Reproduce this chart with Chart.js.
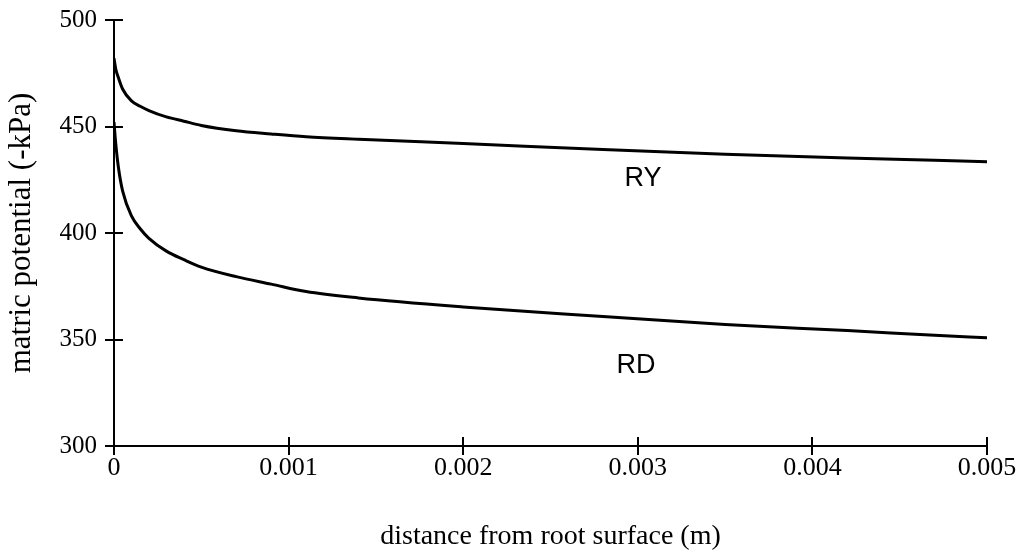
<!DOCTYPE html>
<html>
<head>
<meta charset="utf-8">
<script src="https://cdn.jsdelivr.net/npm/chart.js@4/dist/chart.umd.min.js"></script>
<style>
  html, body { margin: 0; padding: 0; background: #fff; }
  #wrap { width: 1027px; height: 559px; position: relative; }
</style>
</head>
<body>
<div id="wrap"><canvas id="c" width="1027" height="559"></canvas></div>
<script>
// ---- data ----
const distance = [0, 0.00001, 0.000025, 0.00005, 0.0001, 0.00015, 0.0002, 0.0003, 0.0004, 0.0005,
                  0.0007, 0.0009, 0.0011, 0.0014, 0.002, 0.0028, 0.0035, 0.0042, 0.0047, 0.005];
const potentialRY = [482, 477, 473, 467.5, 462, 459.5, 457.5, 454.5, 452.5, 450.5,
                     448, 446.5, 445.2, 444, 442, 439.2, 437, 435.2, 434.2, 433.5];
const potentialRD = [452, 442, 431, 419.5, 408, 402, 397.5, 391.5, 387.5, 384,
                     379.5, 376, 372.5, 369.5, 365.3, 360.8, 357, 354.2, 352, 350.8];
const seriesNames = ['RY', 'RD'];
const xTickValues = [0, 0.001, 0.002, 0.003, 0.004, 0.005];
const xTickLabels = ['0', '0.001', '0.002', '0.003', '0.004', '0.005'];
const yTickValues = [300, 350, 400, 450, 500];
const yTickLabels = ['300', '350', '400', '450', '500'];
const xTitle = 'distance from root surface (m)';
const yTitle = 'matric potential (-kPa)';
// label anchor points in data coordinates
const seriesLabelAt = [[0.00303, 425.4], [0.00299, 337.6]];

const toPoints = (ys) => distance.map((x, i) => ({ x: x, y: ys[i] }));

const crossTicks = {
  id: 'crossTicks',
  afterDraw(chart) {
    const ctx = chart.ctx;
    const xs = chart.scales.x, ys = chart.scales.y;
    const area = chart.chartArea;
    ctx.save();
    ctx.strokeStyle = '#000';
    ctx.lineWidth = 2;
    ctx.beginPath();
    yTickValues.forEach(v => {
      const py = Math.round(ys.getPixelForValue(v));
      ctx.moveTo(area.left - 9, py);
      ctx.lineTo(area.left + 9, py);
    });
    xTickValues.forEach(v => {
      const px = Math.round(xs.getPixelForValue(v));
      ctx.moveTo(px, area.bottom - 9);
      ctx.lineTo(px, area.bottom + 9);
    });
    ctx.stroke();
    // series labels
    ctx.fillStyle = '#000';
    ctx.font = '27px "Liberation Sans", Arial, sans-serif';
    ctx.textAlign = 'center';
    ctx.textBaseline = 'middle';
    seriesNames.forEach((n, i) => {
      const p = seriesLabelAt[i];
      ctx.fillText(n, xs.getPixelForValue(p[0]), ys.getPixelForValue(p[1]));
    });
    ctx.restore();
  }
};

new Chart(document.getElementById('c'), {
  type: 'line',
  data: {
    datasets: [
      { label: seriesNames[0], data: toPoints(potentialRY), borderColor: '#000', borderWidth: 3,
        pointRadius: 0, fill: false, cubicInterpolationMode: 'monotone' },
      { label: seriesNames[1], data: toPoints(potentialRD), borderColor: '#000', borderWidth: 3,
        pointRadius: 0, fill: false, cubicInterpolationMode: 'monotone' }
    ]
  },
  options: {
    responsive: false,
    animation: false,
    devicePixelRatio: 1,
    layout: { padding: { top: 20, right: 40, left: 0, bottom: 0 } },
    plugins: { legend: { display: false }, tooltip: { enabled: false } },
    scales: {
      x: {
        type: 'linear', min: 0, max: 0.005,
        afterBuildTicks: (s) => { s.ticks = xTickValues.map(v => ({ value: v })); },
        afterFit: (s) => { s.height = 113; s.paddingLeft = 0; s.paddingRight = 0; },
        grid: { display: true, drawOnChartArea: false, drawTicks: false, color: 'rgba(0,0,0,0)' },
        border: { display: true, color: '#000', width: 2 },
        ticks: {
          color: '#000', padding: 7, maxRotation: 0, autoSkip: false,
          font: { family: '"Liberation Serif", "Times New Roman", serif', size: 26 },
          callback: (v) => { const i = xTickValues.findIndex(t => Math.abs(t - v) < 1e-9); return i >= 0 ? xTickLabels[i] : ''; }
        },
        title: {
          display: true, text: xTitle, color: '#000', padding: { top: 18, bottom: 6 },
          font: { family: '"Liberation Serif", "Times New Roman", serif', size: 28 }
        }
      },
      y: {
        type: 'linear', min: 300, max: 500,
        afterBuildTicks: (s) => { s.ticks = yTickValues.map(v => ({ value: v })); },
        afterFit: (s) => { s.width = 114; s.paddingTop = 0; s.paddingBottom = 0; },
        grid: { display: true, drawOnChartArea: false, drawTicks: false, color: 'rgba(0,0,0,0)' },
        border: { display: true, color: '#000', width: 2 },
        ticks: {
          color: '#000', padding: 17,
          font: { family: '"Liberation Serif", "Times New Roman", serif', size: 25 },
          callback: (v) => { const i = yTickValues.indexOf(v); return i >= 0 ? yTickLabels[i] : ''; }
        },
        title: {
          display: true, text: yTitle, color: '#000', padding: { top: 3, bottom: 0 },
          font: { family: '"Liberation Serif", "Times New Roman", serif', size: 31 }
        }
      }
    }
  },
  plugins: [crossTicks]
});
</script>
</body>
</html>
